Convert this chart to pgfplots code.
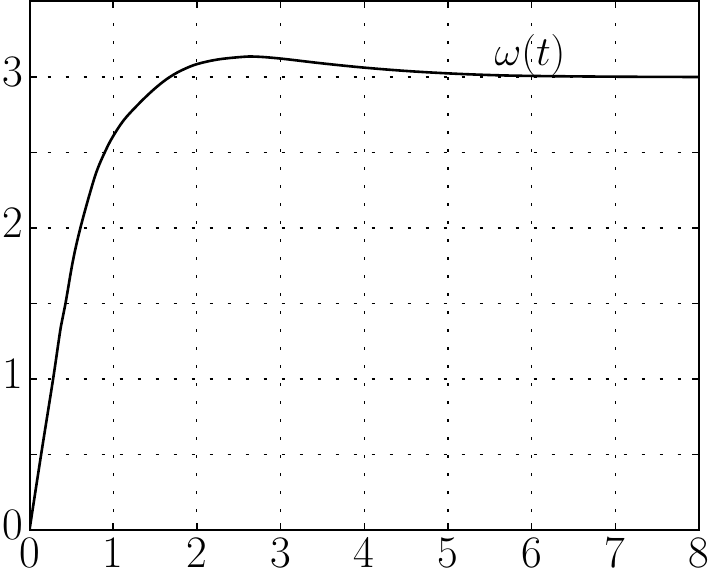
\documentclass[border=0pt]{standalone}
\usepackage{pgfplots}
\pgfplotsset{compat=1.18}
\begin{document}
\begin{tikzpicture}
\begin{axis}[
  name=ax,
  scale only axis,
  width=334.75pt, height=264.25pt,
  xmin=0, xmax=8, ymin=0, ymax=3.5,
  xtick={0,1,...,8},
  ytick={0,0.5,1,1.5,2,2.5,3,3.5},
  yticklabels={0,,1,,2,,3,},
  /pgf/number format/assume math mode=true,
  tick align=inside,
  major tick length=3.5pt,
  axis line style={line width=1pt},
  every tick/.style={black, line width=0.7pt},
  grid=major,
  major grid style={black, line width=0.6pt, dash pattern=on 1.5pt off 7.5pt},
  tick label style={font=\fontsize{22.5}{24}\selectfont, inner sep=0pt},
  xticklabel style={yshift=-3.5pt},
  yticklabel style={xshift=-3pt, yshift=2.5pt},
]
\addplot[black, line width=1.3pt, smooth, tension=0.6] coordinates {
(0,0) (0.139,0.5) (0.282,1.0) (0.374,1.344) (0.43,1.5) (0.52,1.786) (0.608,2.0)
(0.72,2.227) (0.807,2.382) (0.907,2.51) (0.994,2.603) (1.125,2.713) (1.284,2.81)
(1.45,2.9) (1.6,2.97) (1.72,3.015) (1.84,3.05) (2.0,3.085) (2.24,3.115) (2.52,3.132)
(2.7,3.135) (3.0,3.122) (3.5,3.09) (4.0,3.062) (4.5,3.04) (5.0,3.024) (5.5,3.013)
(6.0,3.007) (7.0,3.002) (8.0,3.0)
};
\node[font=\fontsize{21}{22}\selectfont, inner sep=0pt] at (axis cs:5.98,3.146) {$\omega(t)$};
\end{axis}
\pgfresetboundingbox
\path ([xshift=-14.75pt,yshift=-22.5pt]ax.south west) rectangle ([xshift=7pt,yshift=0.75pt]ax.north east);
\end{tikzpicture}
\end{document}
